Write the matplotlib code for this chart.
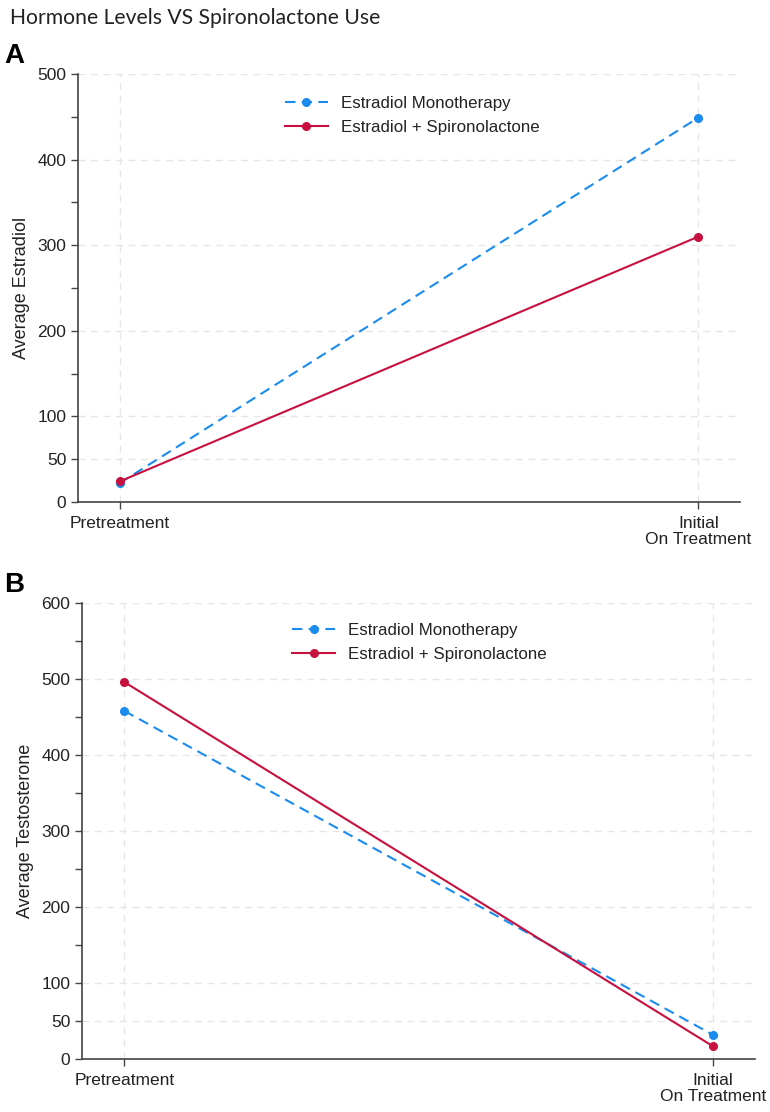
import numpy as np
import matplotlib.pyplot as plt

timepoints = ['Pretreatment', 'Initial\nOn Treatment']
series_names = ['Estradiol Monotherapy', 'Estradiol + Spironolactone']

estradiol_mono = [22, 449]
estradiol_spiro = [24, 310]
testo_mono = [458, 32]
testo_spiro = [496, 17]

blue = '#1a8cf0'
red = '#c8103e'
grid_c = '#e6e6e6'

plt.rcParams['font.family'] = ['Liberation Sans', 'DejaVu Sans']

fig = plt.figure(figsize=(7.7, 11.12), dpi=100)
W, H = 770, 1112


def box(l, t, r, b):
    return [l / W, 1 - b / H, (r - l) / W, (b - t) / H]


def panel(ax, mono, spiro, ymax, ylabel, legend_xy):
    x = np.arange(len(timepoints))
    ax.plot(x, mono, color=blue, ls=(0, (5, 3)), lw=1.5, marker='o', ms=5.5,
            label=series_names[0], zorder=3)
    ax.plot(x, spiro, color=red, ls='-', lw=1.5, marker='o', ms=5.5,
            label=series_names[1], zorder=3)
    ax.set_xlim(-0.072, 1.072)
    ax.set_ylim(0, ymax)
    major = [0, 50] + list(range(100, ymax + 1, 100))
    ax.set_yticks(major)
    ax.set_yticks(list(range(150, ymax, 100)), minor=True)
    ax.set_xticks(x)
    ax.set_xticklabels(timepoints, fontsize=12.5, linespacing=1.1, color='#222222')
    ax.tick_params(axis='y', which='both', labelsize=12.5, length=5, width=1,
                   color='#444444', labelcolor='#222222')
    ax.tick_params(axis='x', length=5, width=1, color='#444444', pad=5)
    for s in ['top', 'right']:
        ax.spines[s].set_visible(False)
    for s in ['left', 'bottom']:
        ax.spines[s].set_color('#444444')
        ax.spines[s].set_linewidth(1.2)
    ax.grid(True, which='major', color=grid_c, ls=(0, (5, 4)), lw=1)
    ax.set_axisbelow(True)
    ax.set_ylabel(ylabel, fontsize=13, labelpad=5, color='#222222')
    ax.legend(loc='upper left', bbox_to_anchor=legend_xy, frameon=False, fontsize=12.2,
              handlelength=2.5, handletextpad=0.8, labelspacing=0.55,
              labelcolor='#222222')


ax1 = fig.add_axes(box(78, 74, 740, 502))
panel(ax1, estradiol_mono, estradiol_spiro, 500, 'Average Estradiol', (0.29, 0.985))

ax2 = fig.add_axes(box(82, 603, 755, 1059))
panel(ax2, testo_mono, testo_spiro, 600, 'Average Testosterone', (0.29, 0.99))

fig.text(10 / W, 1 - 24 / H, 'Hormone Levels VS Spironolactone Use', fontsize=15.2,
         family=['Lato', 'DejaVu Sans'], color='#222222')
fig.text(4 / W, 1 - 63 / H, 'A', fontsize=20, weight='bold')
fig.text(4 / W, 1 - 592 / H, 'B', fontsize=20, weight='bold')

fig.savefig('out.png', dpi=100)
